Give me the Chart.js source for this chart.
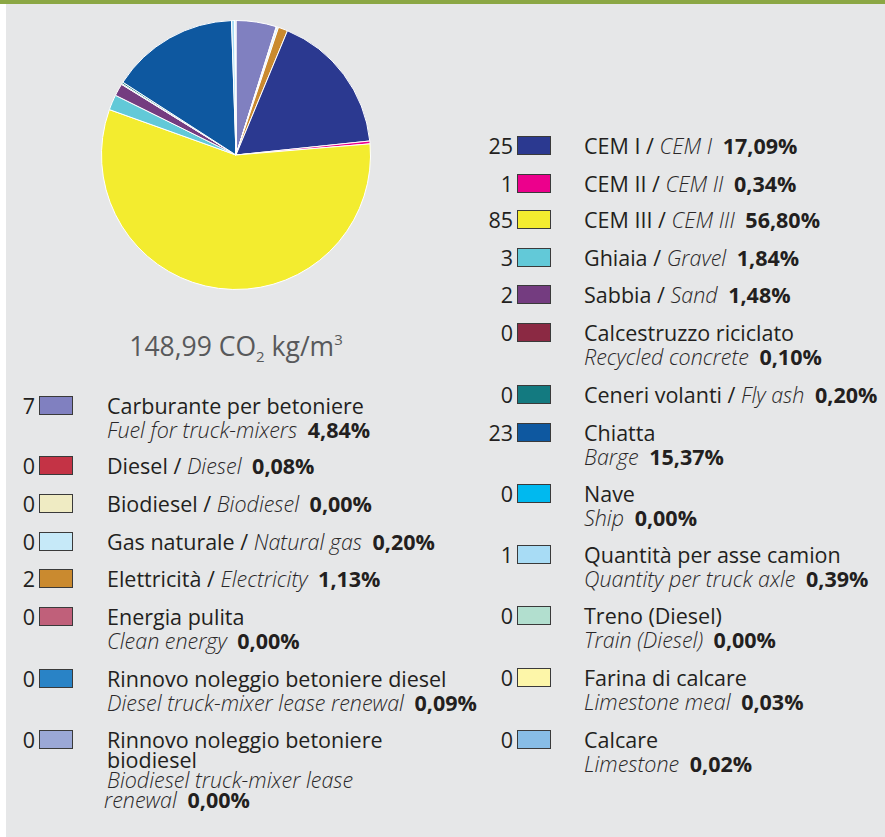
<!DOCTYPE html>
<html>
<head>
<meta charset="utf-8">
<script src="https://cdn.jsdelivr.net/npm/chart.js@4.4.1/dist/chart.umd.min.js"></script>
<style>
  html, body { margin: 0; padding: 0; }
  body { width: 885px; height: 837px; background: #ffffff; position: relative; overflow: hidden;
         font-family: "Open Sans", "Noto Sans", sans-serif; color: #231f20; }
  #topbar { position: absolute; left: 0; top: 0; width: 885px; height: 4px; background: #8ba744; }
  #panel { position: absolute; left: 6px; top: 4px; width: 879px; height: 833px; background: #e6e7e8; }
  #pieWrap { position: absolute; }
  #total { position: absolute; font-size: 26.5px; line-height: 26px; color: #58595b; white-space: nowrap; transform: translateX(-50%); }
  #total sub { font-size: 15px; vertical-align: -6px; line-height: 0; }
  #total sup { font-size: 15px; vertical-align: 11px; line-height: 0; }
  .num { position: absolute; font-size: 21.5px; line-height: 22px; text-align: right; width: 40px; white-space: nowrap; }
  .sw { position: absolute; width: 32px; height: 17px; border: 1px solid #3a3a3a; }
  .line { position: absolute; font-size: 21.5px; line-height: 22px; white-space: pre; }
  .line i { font-style: italic; font-weight: 300; color: #2a2728; }
  .line b { font-weight: 700; margin-left: 5px; }
</style>
</head>
<body>
<div id="topbar"></div>
<div id="panel"></div>
<div id="pieWrap"><canvas id="pie"></canvas></div>
<div id="total"></div>
<div id="legend"></div>
<script>
// ---- DATA (pie order, clockwise from 12 o'clock) ----
const categoriesIT = [
  "Carburante per betoniere", "Diesel", "Biodiesel", "Gas naturale", "Elettricità", "Energia pulita",
  "CEM I", "CEM II", "CEM III", "Ghiaia", "Sabbia", "Calcestruzzo riciclato", "Ceneri volanti",
  "Chiatta", "Nave", "Quantità per asse camion", "Treno (Diesel)", "Farina di calcare", "Calcare",
  "Rinnovo noleggio betoniere diesel", "Rinnovo noleggio betoniere\nbiodiesel"
];
const categoriesEN = [
  "Fuel for truck-mixers", "Diesel", "Biodiesel", "Natural gas", "Electricity", "Clean energy",
  "CEM I", "CEM II", "CEM III", "Gravel", "Sand", "Recycled concrete", "Fly ash",
  "Barge", "Ship", "Quantity per truck axle", "Train (Diesel)", "Limestone meal", "Limestone",
  "Diesel truck-mixer lease renewal", "Biodiesel truck-mixer lease\nrenewal"
];
const emissionKg = [7, 0, 0, 0, 2, 0, 25, 1, 85, 3, 2, 0, 0, 23, 0, 1, 0, 0, 0, 0, 0];
const sharePct = [4.84, 0.08, 0.00, 0.20, 1.13, 0.00, 17.09, 0.34, 56.80, 1.84, 1.48, 0.10, 0.20,
  15.37, 0.00, 0.39, 0.00, 0.03, 0.02, 0.09, 0.00];
const sliceColors = [
  "#8080c0", "#c43345", "#efebc3", "#c6e9f8", "#ca8a2f", "#c0607a",
  "#2b3990", "#ec008c", "#f3ec2f", "#62c9d8", "#743c80", "#8b2943", "#137a80",
  "#0e58a0", "#00b9ef", "#a8dcf5", "#b2dfcf", "#fdf6a9", "#88bde6",
  "#2983c6", "#9ba8d6"
];
const totalValue = "148,99";

// ---- LAYOUT (kept separate from data) ----
const pieBox = { left: 101, top: 20, size: 270 };
const leftColumn = { numRight: 35, swLeft: 39, txtLeft: 107,
  rows: [ {i:0, y:407, two:true}, {i:1, y:467}, {i:2, y:505}, {i:3, y:543}, {i:4, y:580},
          {i:5, y:618, two:true}, {i:19, y:680, two:true}, {i:20, y:741, two:true, lh:20} ] };
const rightColumn = { numRight: 513, swLeft: 517, txtLeft: 584,
  rows: [ {i:6, y:147}, {i:7, y:185}, {i:8, y:221}, {i:9, y:259}, {i:10, y:296},
          {i:11, y:334, two:true}, {i:12, y:396}, {i:13, y:434, two:true}, {i:14, y:495, two:true},
          {i:15, y:556, two:true}, {i:16, y:617, two:true}, {i:17, y:679, two:true}, {i:18, y:741, two:true} ] };

const fmtPct = v => v.toFixed(2).replace('.', ',') + '%';
const esc = s => s.replace(/&/g,'&amp;').replace(/</g,'&lt;');
const LH = 20; // element line box height

function addLine(host, left, capCenter, html) {
  const d = document.createElement('div');
  d.className = 'line';
  d.style.left = left + 'px';
  d.style.top = (capCenter - LH / 2 - 1) + 'px';
  d.style.lineHeight = LH + 'px';
  d.innerHTML = html;
  host.appendChild(d);
}

function buildColumn(col) {
  const host = document.getElementById('legend');
  col.rows.forEach(r => {
    const k = r.i;
    const step = r.lh || 24;
    const num = document.createElement('div');
    num.className = 'num';
    num.style.left = (col.numRight - 40) + 'px';
    num.style.top = (r.y - LH / 2 - 1) + 'px';
    num.style.lineHeight = LH + 'px';
    num.textContent = emissionKg[k];
    host.appendChild(num);

    const sw = document.createElement('div');
    sw.className = 'sw';
    sw.style.left = col.swLeft + 'px';
    sw.style.top = (r.y - 11) + 'px';
    sw.style.background = sliceColors[k];
    host.appendChild(sw);

    const pct = '<b>' + fmtPct(sharePct[k]) + '</b>';
    let lines;
    if (r.two) {
      const it = categoriesIT[k].split('\n').map(esc);
      const en = categoriesEN[k].split('\n').map(esc);
      lines = it.concat(en.map(s => '<i>' + s + '</i>'));
      lines[lines.length - 1] += ' ' + pct;
    } else {
      lines = [esc(categoriesIT[k]) + ' / <i>' + esc(categoriesEN[k]) + '</i> ' + pct];
    }
    const n = lines.length;
    lines.forEach((html, j) => {
      // wrapped continuation of the last English line sits slightly left in the reference
      const dx = (n > 2 && j === n - 1) ? -3 : 0;
      addLine(host, col.txtLeft + dx, r.y + j * step, html);
    });
  });
}
buildColumn(leftColumn);
buildColumn(rightColumn);

const total = document.getElementById('total');
total.style.left = '236px';
total.style.top = '333px';
total.innerHTML = totalValue + ' CO<sub>2</sub> kg/m<sup>3</sup>';

const wrap = document.getElementById('pieWrap');
wrap.style.left = pieBox.left + 'px';
wrap.style.top = pieBox.top + 'px';
wrap.style.width = pieBox.size + 'px';
wrap.style.height = pieBox.size + 'px';

new Chart(document.getElementById('pie'), {
  type: 'pie',
  data: {
    labels: categoriesIT,
    datasets: [{
      data: sharePct,
      backgroundColor: sliceColors,
      borderColor: '#ffffff',
      borderWidth: 1
    }]
  },
  options: {
    responsive: true,
    maintainAspectRatio: false,
    animation: false,
    layout: { padding: 0 },
    plugins: { legend: { display: false }, tooltip: { enabled: false } }
  }
});
</script>
</body>
</html>
